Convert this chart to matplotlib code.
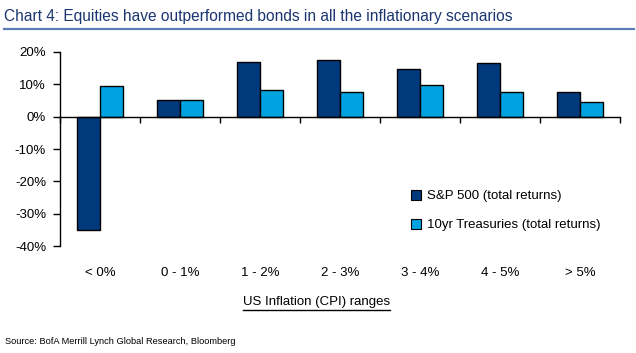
import matplotlib
matplotlib.use("Agg")
import matplotlib.pyplot as plt
import numpy as np
from matplotlib.patches import Patch
from matplotlib.lines import Line2D

categories = ["< 0%", "0 - 1%", "1 - 2%", "2 - 3%", "3 - 4%", "4 - 5%", "> 5%"]
sp500 = [-35.0, 5.3, 16.9, 17.5, 14.7, 16.6, 7.5]
treasuries = [9.4, 5.3, 8.4, 7.5, 9.7, 7.5, 4.4]
yticks = [-40, -30, -20, -10, 0, 10, 20]

plt.rcParams['font.family'] = ['Liberation Sans', 'DejaVu Sans']

fig = plt.figure(figsize=(6.36, 3.53), dpi=100)
ax = fig.add_axes([60/636, 1-246/353, 560/636, 194/353])

x = np.arange(len(categories))
w = 0.2875
navy = "#003a7d"
light = "#00a3e0"
ax.bar(x - w/2, sp500, w, color=navy, edgecolor="black", linewidth=1.0, zorder=2)
ax.bar(x + w/2, treasuries, w, color=light, edgecolor="black", linewidth=1.0, zorder=2)

ax.set_xlim(-0.5, len(categories) - 0.5)
ax.set_ylim(-40, 20)
ax.set_yticks(yticks)
ax.set_yticklabels([f"{v}%" for v in yticks], fontsize=9.5)
ax.tick_params(axis='y', direction='out', length=5, width=1, pad=5)

for s in ['top', 'right']:
    ax.spines[s].set_visible(False)
ax.spines['left'].set_linewidth(1)
ax.spines['bottom'].set_position(('data', 0))
ax.spines['bottom'].set_linewidth(1)
ax.set_xticks(np.arange(len(categories) + 1) - 0.5)
ax.set_xticklabels([])
ax.tick_params(axis='x', direction='out', length=4.5, width=1)

for i, c in enumerate(categories):
    ax.text(i, -0.139, c, transform=ax.get_xaxis_transform(), ha='center', va='center', fontsize=9.5)

fig.text(316.5/636, 1-301.5/353, "US Inflation (CPI) ranges", ha='center', va='center', fontsize=9.5)
fig.add_artist(Line2D([243/636, 390/636], [1-310/353, 1-310/353], color='black', linewidth=1))

handles = [Patch(facecolor=navy, edgecolor='black', linewidth=0.8),
           Patch(facecolor=light, edgecolor='black', linewidth=0.8)]
ax.legend(handles, ["S&P 500 (total returns)", "10yr Treasuries (total returns)"],
          loc='upper left', bbox_to_anchor=(411/636, 1-190/353), bbox_transform=fig.transFigure,
          frameon=False, fontsize=9.5, handlelength=0.75, handleheight=0.75, handletextpad=0.5,
          labelspacing=1.25, borderaxespad=0, borderpad=0)

fig.text(4/636, 1-17/353, "Chart 4: Equities have outperformed bonds in all the inflationary scenarios",
         ha='left', va='center', fontsize=11.2, color="#1b3570")
fig.add_artist(Line2D([4/636, 634/636], [1-29/353, 1-29/353], color="#5a7db3", linewidth=1.6))

fig.text(5/636, 1-342/353, "Source: BofA Merrill Lynch Global Research, Bloomberg", ha='left', va='center',
         fontsize=6.7)

fig.savefig("out.png", dpi=100)
